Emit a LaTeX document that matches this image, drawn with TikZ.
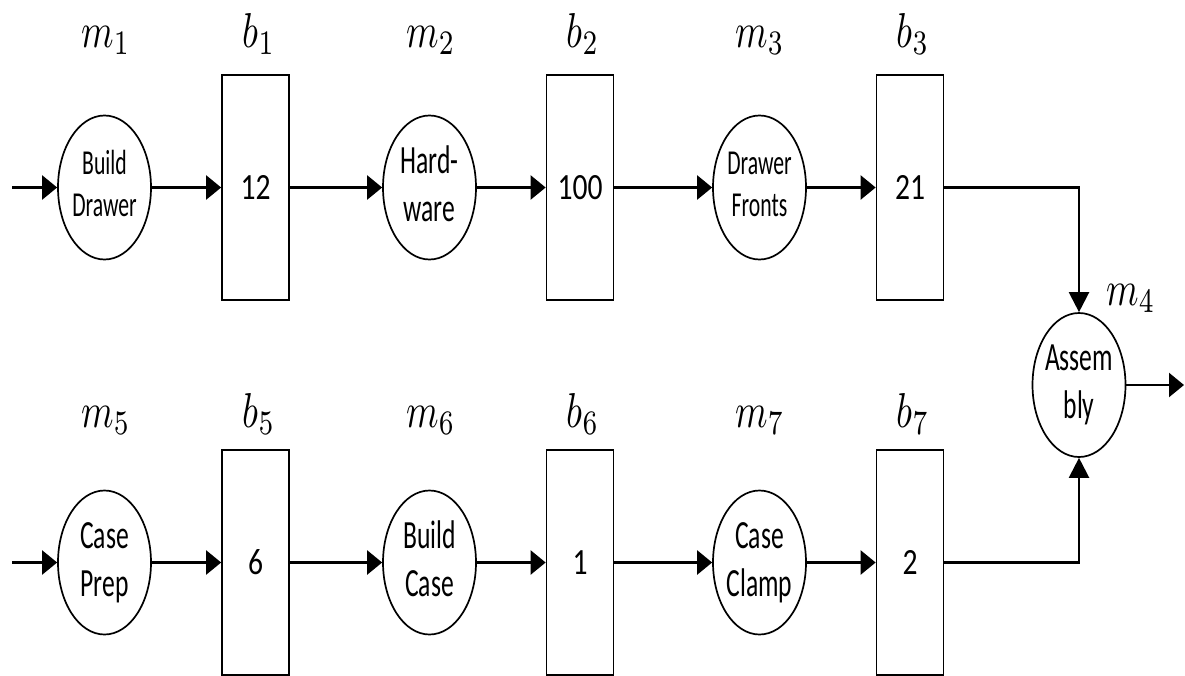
\documentclass[tikz,border=0pt]{standalone}
\usepackage[no-math]{fontspec}
\setmainfont{Carlito}
\usetikzlibrary{shapes.geometric,arrows.meta}
\newcommand\sqz[3]{\scalebox{#1}[1]{#2\begin{tabular}{@{}c@{}}#3\end{tabular}}}
\newcommand\lbl[1]{\scalebox{3.7}[4.9]{$#1$}}
\tikzset{
  mach/.style={draw, line width=1.7pt, ellipse, minimum width=93pt, minimum height=144pt, inner sep=-30pt},
  buf/.style={draw, line width=1.7pt, rectangle, minimum width=67pt, minimum height=225pt, inner sep=0pt},
  lab/.style={anchor=base, inner sep=0pt},
  conn/.style={line width=2.3pt},
  harr/.style={conn, -{Triangle[length=15pt,width=24pt]}},
  varr/.style={conn, -{Triangle[length=20pt,width=20pt]}},
}
\newcommand\smt[1]{\sqz{0.62}{\fontsize{35}{42}\selectfont}{#1}}
\newcommand\bgt[1]{\sqz{0.64}{\fontsize{40}{48}\selectfont}{#1}}
\newcommand\num[1]{\scalebox{0.8}[1]{\fontsize{37}{40}\selectfont #1}}
\begin{document}
\begin{tikzpicture}[x=1pt,y=-1pt]
\useasboundingbox (0,0) rectangle (1185,675);
% top row
\node[mach] (m1) at (104.5,187.5) {\smt{Build\\Drawer}};
\node[buf]  (b1) at (255.5,187.5) {\num{12}};
\node[mach] (m2) at (429.5,187.5) {\bgt{Hard-\\ware}};
\node[buf]  (b2) at (580,187.5) {\num{100}};
\node[mach] (m3) at (759.5,187.5) {\smt{Drawer\\Fronts}};
\node[buf]  (b3) at (910,187.5) {\num{21}};
% bottom row
\node[mach] (m5) at (104.5,562.5) {\bgt{Case\\Prep}};
\node[buf]  (b5) at (255.5,562.5) {\num{6}};
\node[mach] (m6) at (429.5,562.5) {\bgt{Build\\Case}};
\node[buf]  (b6) at (580,562.5) {\num{1}};
\node[mach] (m7) at (759.5,562.5) {\bgt{Case\\Clamp}};
\node[buf]  (b7) at (910,562.5) {\num{2}};
% assembly
\node[mach] (m4) at (1079,385) {\bgt{Assem\\bly}};
% labels
\node[lab] (lm1) at (106,47) {\lbl{m_1}};
\node[lab] (lb1) at (259,47) {\lbl{b_1}};
\node[lab] (lm2) at (431,47) {\lbl{m_2}};
\node[lab] (lb2) at (583,47) {\lbl{b_2}};
\node[lab] (lm3) at (760,47) {\lbl{m_3}};
\node[lab] (lb3) at (913,47) {\lbl{b_3}};
\node[lab] (lm5) at (106,427) {\lbl{m_5}};
\node[lab] (lb5) at (259,427) {\lbl{b_5}};
\node[lab] (lm6) at (431,427) {\lbl{m_6}};
\node[lab] (lb6) at (583,427) {\lbl{b_6}};
\node[lab] (lm7) at (760,427) {\lbl{m_7}};
\node[lab] (lb7) at (913,427) {\lbl{b_7}};
\node[lab] (lm4) at (1131,305) {\lbl{m_4}};
% free ends
\coordinate (in1) at (12,187.5);
\coordinate (in5) at (12,562.5);
\coordinate (out) at (1184,385);
% connectors
\draw[harr] (in1) -- (m1);
\draw[harr] (m1) -- (b1);
\draw[harr] (b1) -- (m2);
\draw[harr] (m2) -- (b2);
\draw[harr] (b2) -- (m3);
\draw[harr] (m3) -- (b3);
\draw[harr] (in5) -- (m5);
\draw[harr] (m5) -- (b5);
\draw[harr] (b5) -- (m6);
\draw[harr] (m6) -- (b6);
\draw[harr] (b6) -- (m7);
\draw[harr] (m7) -- (b7);
\draw[varr] (b3.east) -| (m4.north);
\draw[varr] (b7.east) -| (m4.south);
\draw[harr] (m4.east) -- (out);
\end{tikzpicture}
\end{document}
